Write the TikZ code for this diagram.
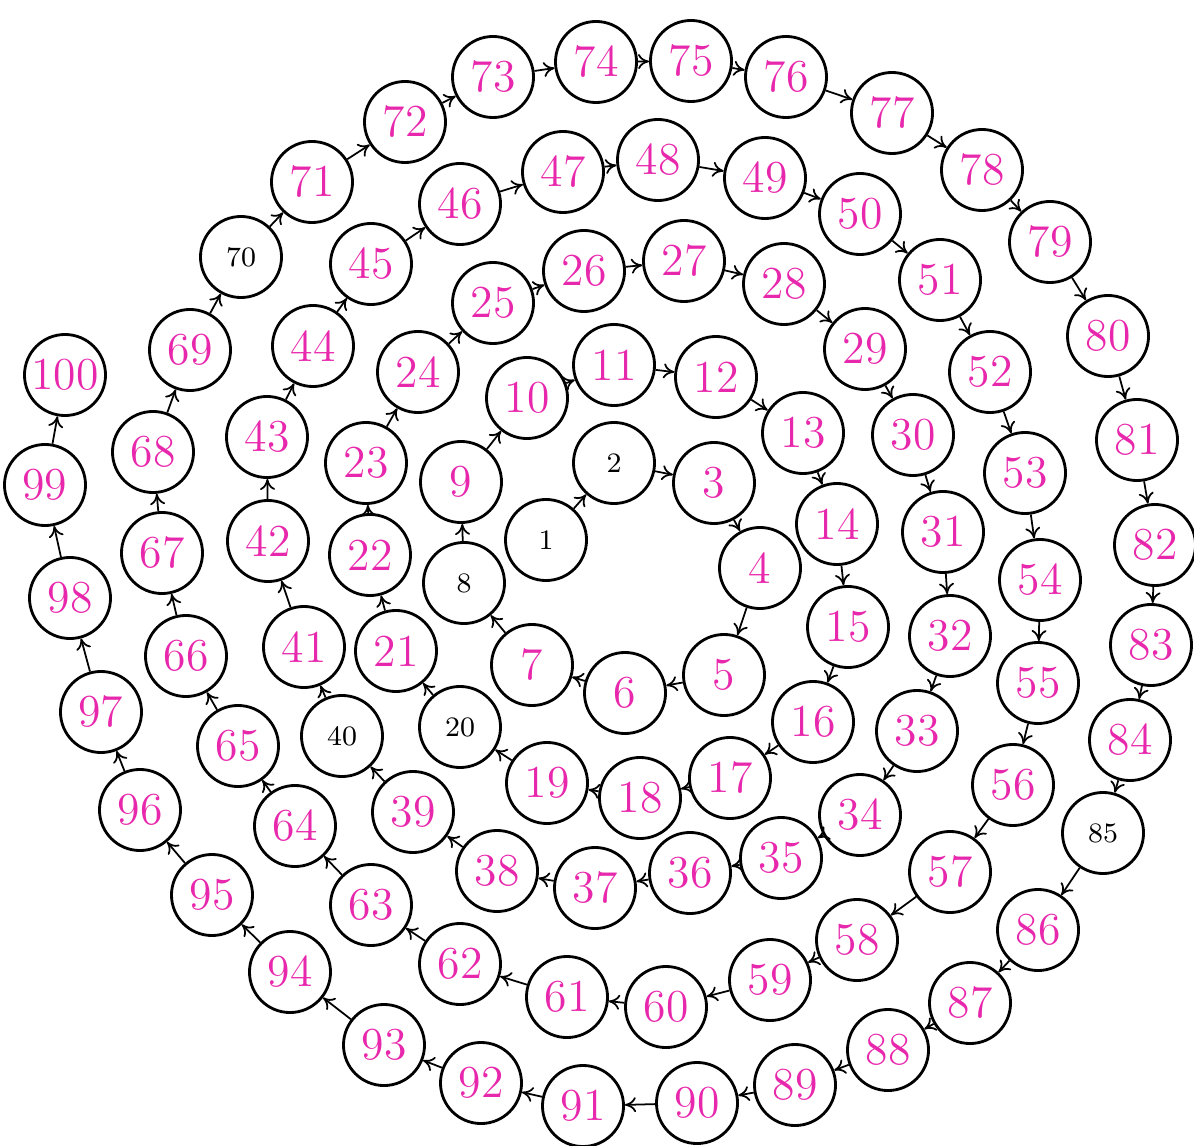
\documentclass[tikz,border=0pt]{standalone}
\usepackage{tikz}
\usetikzlibrary{arrows.meta}
\definecolor{pen}{RGB}{232,40,172}

\begin{document}
\begin{tikzpicture}[
    x=0.01cm, y=-0.01cm,
    ball/.style={draw, circle, line width=0.8pt, minimum size=8.1cm/10, inner sep=0pt},
    hand/.style={ball, text=pen, font=\fontsize{13}{13}\selectfont},
    printed/.style={ball, text=black, font=\fontsize{8}{8}\selectfont},
    link/.style={-{To[length=1.1mm,width=1.5mm]}, line width=0.5pt}
  ]
  \useasboundingbox (0,0) rectangle (1194,1146);

  % --- circles of the spiral ---
  \foreach \n/\x/\y/\s in {
      1/546/540/printed, 2/614/463/printed, 3/714/483/hand, 4/760/568/hand,
      5/724/675/hand, 6/625/693/hand, 7/532/665/hand, 8/464/583/printed,
      9/461/482/hand, 10/527/398/hand, 11/614/365/hand, 12/716/377/hand,
      13/803/433/hand, 14/837/524/hand, 15/848/627/hand, 16/813/722/hand,
      17/730/778/hand, 18/640/798/hand, 19/547/783/hand, 20/460/727/printed,
      21/396/651/hand, 22/370/555/hand, 23/366/463/hand, 24/418/372/hand,
      25/493/303/hand, 26/584/271/hand, 27/684/261/hand, 28/784/284/hand,
      29/865/349/hand, 30/913/435/hand, 31/943/532/hand, 32/950/636/hand,
      33/917/731/hand, 34/860/815/hand, 35/781/858/hand, 36/690/873/hand,
      37/595/888/hand, 38/497/871/hand, 39/413/812/hand, 40/342/736/printed,
      41/304/647/hand, 42/268/541/hand, 43/267/437/hand, 44/313/346/hand,
      45/371/264/hand, 46/460/204/hand, 47/563/172/hand, 48/658/160/hand,
      49/765/178/hand, 50/860/214/hand, 51/940/280/hand, 52/990/372/hand,
      53/1025/473/hand, 54/1040/580/hand, 55/1038/683/hand, 56/1013/785/hand,
      57/950/872/hand, 58/857/940/hand, 59/770/980/hand, 60/666/1007/hand,
      61/567/997/hand, 62/460/964/hand, 63/371/905/hand, 64/295/826/hand,
      65/238/746/hand, 66/186/656/hand, 67/162/553/hand, 68/153/452/hand,
      69/190/350/hand, 70/241/257/printed, 71/312/182/hand, 72/405/122/hand,
      73/493/77/hand, 74/596/62/hand, 75/691/61/hand, 76/786/77/hand,
      77/892/113/hand, 78/982/170/hand, 79/1050/242/hand, 80/1108/336/hand,
      81/1137/440/hand, 82/1155/545/hand, 83/1151/645/hand, 84/1130/740/hand,
      85/1103/833/printed, 86/1038/930/hand, 87/970/1003/hand, 88/888/1050/hand,
      89/795/1085/hand, 90/697/1103/hand, 91/583/1106/hand, 92/481/1083/hand,
      93/384/1045/hand, 94/290/972/hand, 95/212/895/hand, 96/140/810/hand,
      97/101/712/hand, 98/70/598/hand, 99/45/485/hand, 100/65/375/hand}
    \node[\s] (c\n) at (\x,\y) {\n};

  % --- arrows from each circle to the next ---
  \foreach \i [evaluate=\i as \j using int(\i+1)] in {1,...,99}
    \draw[link] (c\i) -- (c\j);

\end{tikzpicture}
\end{document}
